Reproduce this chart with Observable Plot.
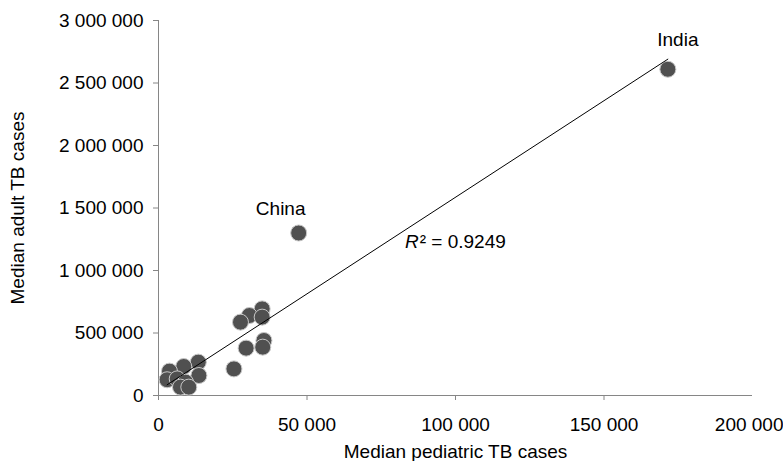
<!DOCTYPE html>
<html>
<head>
<meta charset="utf-8">
<script src="https://cdn.jsdelivr.net/npm/d3@7"></script>
<script src="https://cdn.jsdelivr.net/npm/@observablehq/plot@0.6"></script>
<style>
  html, body { margin: 0; padding: 0; background: #fff; }
  #chart svg { font-family: "Liberation Sans", Arial, sans-serif; }
</style>
</head>
<body>
<div id="chart"></div>
<script>
// Median pediatric TB cases (x) and median adult TB cases (y) per country
const countries = ["India", "China", "C3", "C4", "C5", "C6", "C7", "C8", "C9", "C10",
                   "C11", "C12", "C13", "C14", "C15", "C16", "C17", "C18", "C19"];
const pediatric = [171500, 47200, 34900, 30600, 27600, 34900, 35500, 35100, 29500, 25400,
                   13400, 13600, 8500, 3700, 2900, 6300, 9100, 7400, 10200];
const adult     = [2610000, 1300000, 693000, 640000, 587000, 627000, 440000, 387000, 379000, 213000,
                   267000, 160000, 232000, 195000, 126000, 133000, 107000, 67000, 67000];
const xTicks = [0, 50000, 100000, 150000];
const xTickLast = [200000];
const yTicks = [0, 500000, 1000000, 1500000, 2000000, 2500000, 3000000];
const xLabel = "Median pediatric TB cases";
const yLabel = "Median adult TB cases";
const r2Text = "² = 0.9249";
const r2Pos = [{x: 87600, y: 1232000}];

const data = countries.map((c, i) => ({country: c, x: pediatric[i], y: adult[i]}));
const fmt = d3.formatLocale({thousands: " ", grouping: [3], decimal: "."}).format(",d");
const FS = 19;

const plot = Plot.plot({
  width: 783,
  height: 461,
  marginLeft: 158,
  marginRight: 31,
  marginTop: 20,
  marginBottom: 66,
  style: {fontSize: FS + "px", fontFamily: "Liberation Sans, Arial, sans-serif", color: "#000", background: "#fff"},
  x: {domain: [0, 200000]},
  y: {domain: [0, 3000000]},
  marks: [
    Plot.axisX({ticks: xTicks, tickFormat: fmt, tickSize: 5, tickPadding: 17, stroke: "#868686",
      label: xLabel, labelAnchor: "center", labelArrow: "none", labelOffset: 62, fill: "#000", fontSize: FS}),
    Plot.axisX({ticks: xTickLast, tickFormat: fmt, tickSize: 5, tickPadding: 17, stroke: "#868686",
      textAnchor: "end", dx: 31, label: null, fill: "#000", fontSize: FS}),
    Plot.axisY({ticks: yTicks, tickFormat: fmt, tickSize: 5, tickPadding: 10, stroke: "#868686",
      label: yLabel, labelAnchor: "center", labelArrow: "none", labelOffset: 148, fill: "#000", fontSize: FS}),
    Plot.ruleY([0], {stroke: "#868686"}),
    Plot.ruleX([0], {stroke: "#868686"}),
    Plot.dot(data, {x: "x", y: "y", r: 8, fill: "#505050", stroke: "#c8c8c8", strokeWidth: 1}),
    Plot.linearRegressionY(data, {x: "x", y: "y", ci: 0, stroke: "#000", strokeWidth: 1}),
    Plot.text(data.filter(d => d.country === "India"), {x: "x", y: "y", text: "country", dx: 10, dy: -29, fill: "#000", fontSize: FS}),
    Plot.text(data.filter(d => d.country === "China"), {x: "x", y: "y", text: "country", dx: -18, dy: -24, fill: "#000", fontSize: FS}),
    Plot.text(r2Pos, {x: "x", y: "y", text: () => "R", fontStyle: "italic", textAnchor: "end", fill: "#000", fontSize: FS}),
    Plot.text(r2Pos, {x: "x", y: "y", text: () => r2Text, textAnchor: "start", dx: 1, fill: "#000", fontSize: FS})
  ]
});
document.getElementById("chart").appendChild(plot);
</script>
</body>
</html>
